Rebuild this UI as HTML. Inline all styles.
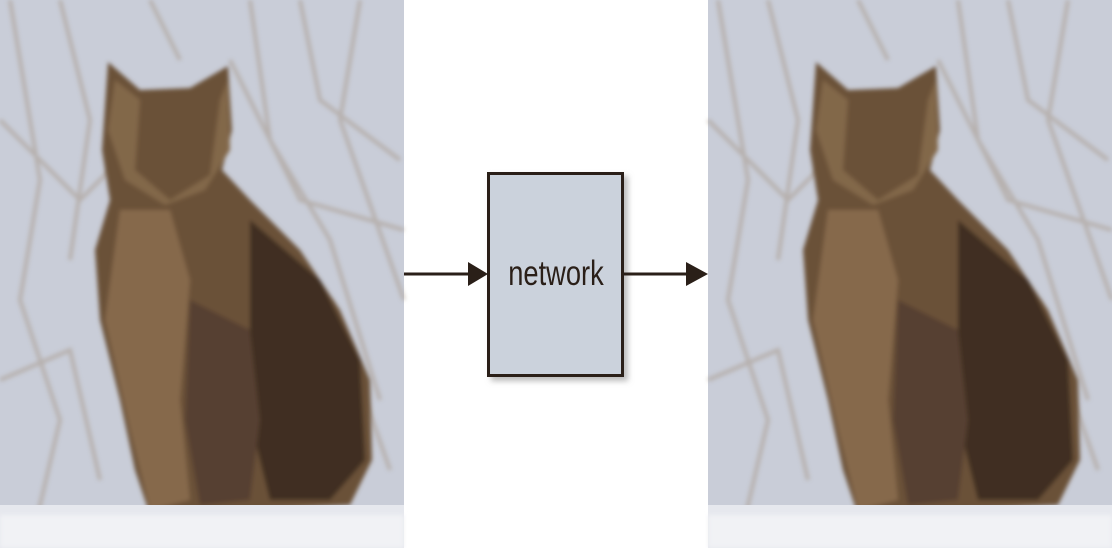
<!DOCTYPE html>
<html><head><style>
html,body{margin:0;padding:0;background:#fff;}
body{width:1112px;height:548px;position:relative;overflow:hidden;font-family:"Liberation Sans",sans-serif;}
svg{position:absolute;left:0;top:0;}
</style></head><body>
<svg width="1112" height="548" viewBox="0 0 1112 548">
<defs>
<filter id="bl" x="-20%" y="-20%" width="140%" height="140%"><feGaussianBlur stdDeviation="2"/></filter>
<filter id="sh" x="-20%" y="-20%" width="140%" height="140%"><feGaussianBlur stdDeviation="3"/></filter>
<g id="photo">
<rect x="0" y="0" width="404" height="548" fill="#c9cdd8"/>
<g stroke="#a49484" stroke-width="4" fill="none" opacity="0.5" filter="url(#bl)">
<path d="M10 0 L40 180 L20 300 L60 420 L30 548"/>
<path d="M60 0 L90 120 L70 260"/>
<path d="M250 0 L270 140 L330 240 L380 400"/>
<path d="M300 0 L320 100 L400 160"/>
<path d="M0 120 L80 200 L120 160"/>
<path d="M230 60 L300 200 L404 230"/>
<path d="M360 0 L340 120 L404 300"/>
<path d="M0 380 L70 350 L100 480"/>
<path d="M330 300 L390 470"/>
<path d="M150 0 L180 60"/>
</g>
<g filter="url(#bl)">
<path d="M108 62 L140 90 L190 88 L228 66 L232 130 L222 170 L250 200 L300 250 L340 310 L370 380 L372 460 L350 505 L150 515 L135 470 L120 400 L100 320 L95 250 L110 200 L102 150 Z" fill="#6a5139"/>
<path d="M115 80 L140 100 L135 170 L170 200 L210 175 L220 100 L228 80 L230 150 L205 190 L165 205 L125 180 L108 130 Z" fill="#82674a"/>
<path d="M120 210 L170 210 L190 280 L180 400 L190 500 L150 510 L130 430 L105 320 Z" fill="#86694c"/>
<path d="M250 220 L320 280 L360 360 L365 460 L330 500 L270 500 L250 420 Z" fill="#3f2e20"/>
<path d="M190 300 L250 330 L260 420 L250 500 L200 505 L185 420 Z" fill="#574030"/>
</g>
<rect x="0" y="505" width="404" height="43" fill="#e6e8ee"/>
<rect x="0" y="515" width="404" height="33" fill="#f1f2f5" filter="url(#bl)"/>
</g>
</defs>
<use href="#photo" x="0" y="0"/>
<use href="#photo" x="708" y="0"/>
<rect x="491" y="176" width="137" height="205" fill="#bbb" filter="url(#sh)"/>
<rect x="488.5" y="173.5" width="134" height="202" fill="#cbd2dc" stroke="#2a1f18" stroke-width="3"/>
<line x1="404" y1="274" x2="470" y2="274" stroke="#2a1f18" stroke-width="3"/>
<polygon points="468,262 488,274 468,286" fill="#2a1f18"/>
<line x1="624" y1="274" x2="688" y2="274" stroke="#2a1f18" stroke-width="3"/>
<polygon points="686,262 708,274 686,286" fill="#2a1f18"/>
<text x="556" y="285" text-anchor="middle" font-family="Liberation Sans, sans-serif" font-size="35" fill="#2a1f18" transform="translate(556 0) scale(0.78 1) translate(-556 0)">network</text>
</svg>
</body></html>
